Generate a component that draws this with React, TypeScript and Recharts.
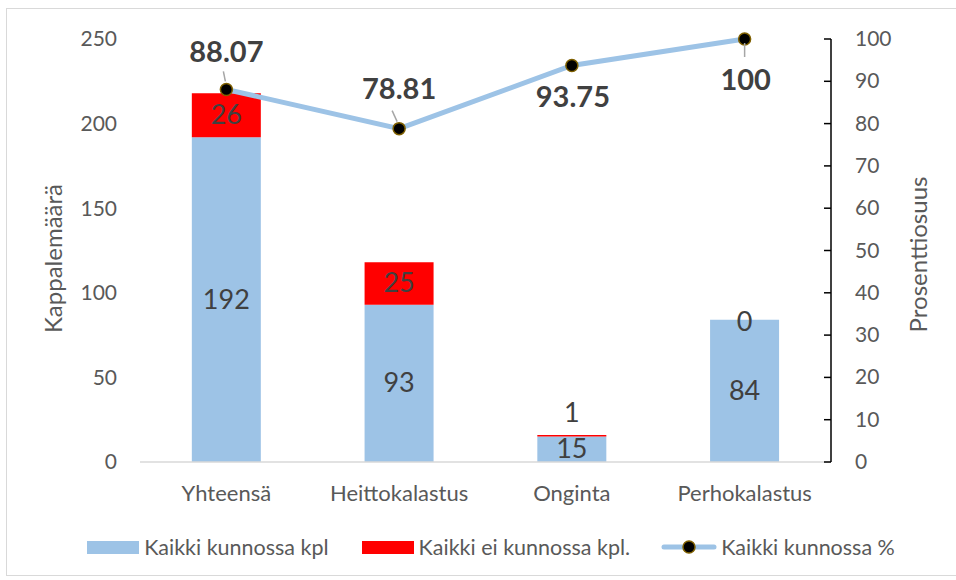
import { ComposedChart, Bar, Line, XAxis, YAxis, Legend, LabelList } from 'recharts'

const categories = ['Yhteensä', 'Heittokalastus', 'Onginta', 'Perhokalastus']
const kunnossaKpl = [192, 93, 15, 84]
const eiKunnossaKpl = [26, 25, 1, 0]
const kunnossaPct = [88.07, 78.81, 93.75, 100]
const countTicks = [0, 50, 100, 150, 200, 250]
const pctTicks = [0, 10, 20, 30, 40, 50, 60, 70, 80, 90, 100]

const data = categories.map((name, i) => ({
  name,
  ok: kunnossaKpl[i],
  notOk: eiKunnossaKpl[i],
  pct: kunnossaPct[i],
}))

// where excel put the % labels relative to each point (plus the little leader lines)
const pctLabelPlace = [
  { dx: 0, dy: -37, lead: [-3, -18, -1, -8] },
  { dx: 0, dy: -40, lead: [-7, -18, -2, -7] },
  { dx: 1, dy: 32, lead: null },
  { dx: 1, dy: 41, lead: [0, 4, 0, 18] },
]

const BLUE = '#9DC3E6'
const RED = '#FF0000'
const FONT = 'Lato, "Open Sans", sans-serif'
const TXT = '#595959'

const CenterLabel = (p: any) => {
  const { x, y, width, height, value } = p
  if (value === 0) return null
  const cx = x + width / 2
  // tiny non-zero segment: excel moves the label above it
  const cy = height < 6 ? y - 22 : y + height / 2
  return (
    <text x={cx} y={cy} dy={9} textAnchor="middle" fill="#404040" fontSize={27} fontFamily={FONT}>
      {value}
    </text>
  )
}

// zero-height red segment isn't drawn, so its "0" label hangs off the blue bar top
const ZeroOnTop = (p: any) => {
  const { x, y, width, value } = p
  if (value !== 0) return null
  return (
    <text x={x + width / 2} y={y + 2} dy={9} textAnchor="middle" fill="#404040" fontSize={27} fontFamily={FONT}>
      {value}
    </text>
  )
}

const PctLabel = (p: any) => {
  const { x, y, value, index } = p
  const pl = pctLabelPlace[index] || { dx: 0, dy: -30, lead: null }
  return (
    <g>
      {pl.lead && (
        <line x1={x + pl.lead[0]} y1={y + pl.lead[1]} x2={x + pl.lead[2]} y2={y + pl.lead[3]} stroke="#a6a6a6" strokeWidth={1.5} />
      )}
      <text x={x + pl.dx} y={y + pl.dy} dy={10} textAnchor="middle" fill="#404040" fontSize={29} fontWeight="bold" fontFamily={FONT}>
        {value}
      </text>
    </g>
  )
}

const RightTick = (p: any) => (
  <g>
    <line x1={p.x - 7} x2={p.x} y1={p.y} y2={p.y} stroke="#000" strokeWidth={1.5} />
    <text x={p.x + 24} y={p.y} dy={7} fill={TXT} fontSize={21} fontFamily={FONT}>
      {p.payload.value}
    </text>
  </g>
)

const Dot = (p: any) => (
  <circle key={p.index} cx={p.cx} cy={p.cy} r={6} fill="#000" stroke="#7F6000" strokeWidth={1.5} />
)

const LegendContent = () => (
  <div style={{ display: 'flex', justifyContent: 'center', alignItems: 'center', paddingTop: 14, paddingLeft: 26, fontFamily: FONT, fontSize: 21.5, color: TXT }}>
    <span style={{ display: 'inline-block', width: 52, height: 13, background: BLUE, marginRight: 5 }} />
    <span style={{ marginRight: 33 }}>Kaikki kunnossa kpl</span>
    <span style={{ display: 'inline-block', width: 52, height: 13, background: RED, marginRight: 5 }} />
    <span style={{ marginRight: 31 }}>Kaikki ei kunnossa kpl.</span>
    <svg width={56} height={16} style={{ marginRight: 4 }}>
      <line x1={3} x2={53} y1={8} y2={8} stroke={BLUE} strokeWidth={5} strokeLinecap="round" />
      <circle cx={28} cy={8} r={6} fill="#000" stroke="#7F6000" strokeWidth={1.5} />
    </svg>
    <span>Kaikki kunnossa %</span>
  </div>
)

export default function App() {
  return (
    <div style={{ position: 'absolute', left: 0, top: 0, width: 956, height: 580, background: '#fff' }}>
      <div style={{ position: 'absolute', left: 6, top: 8, width: 960, height: 566, border: '1px solid #d9d9d9' }} />
      <ComposedChart
        width={956}
        height={580}
        data={data}
        margin={{ top: 39, right: 0, left: 0, bottom: 12 }}
        barCategoryGap="30%"
        style={{ position: 'absolute', left: 0, top: 0 }}
      >
        <XAxis
          dataKey="name"
          height={58}
          tickLine={false}
          tickSize={0}
          tickMargin={23}
          axisLine={{ stroke: '#d9d9d9', strokeWidth: 1.5 }}
          tick={{ fill: TXT, fontSize: 22, fontFamily: FONT }}
        />
        <YAxis
          yAxisId="count"
          width={140}
          domain={[0, 250]}
          ticks={countTicks}
          axisLine={false}
          tickLine={false}
          tickSize={0}
          tickMargin={23}
          tick={{ fill: TXT, fontSize: 21, fontFamily: FONT }}
          label={(p: any) => {
            const vb = p.viewBox
            const cx = vb.x + 55
            const cy = vb.y + vb.height / 2 + 8
            return (
              <text x={cx} y={cy} transform={`rotate(-90 ${cx} ${cy})`} textAnchor="middle" dy={7} fill={TXT} fontSize={24} fontFamily={FONT}>
                Kappalemäärä
              </text>
            )
          }}
        />
        <YAxis
          yAxisId="pct"
          orientation="right"
          width={125}
          domain={[0, 100]}
          ticks={pctTicks}
          axisLine={{ stroke: '#000', strokeWidth: 1.5 }}
          tickLine={false}
          tickSize={0}
          tickMargin={0}
          tick={RightTick}
          label={(p: any) => {
            const vb = p.viewBox
            const cx = vb.x + 89
            const cy = vb.y + vb.height / 2 + 4
            return (
              <text x={cx} y={cy} transform={`rotate(-90 ${cx} ${cy})`} textAnchor="middle" dy={7} fill={TXT} fontSize={24} fontFamily={FONT}>
                Prosenttiosuus
              </text>
            )
          }}
        />
        <Legend verticalAlign="bottom" height={48} content={LegendContent} />
        <Bar yAxisId="count" dataKey="ok" stackId="a" fill={BLUE} isAnimationActive={false}>
          <LabelList dataKey="ok" content={CenterLabel} />
          <LabelList dataKey="notOk" content={ZeroOnTop} />
        </Bar>
        <Bar yAxisId="count" dataKey="notOk" stackId="a" fill={RED} isAnimationActive={false}>
          <LabelList dataKey="notOk" content={CenterLabel} />
        </Bar>
        <Line
          yAxisId="pct"
          dataKey="pct"
          stroke={BLUE}
          strokeWidth={5}
          dot={Dot}
          activeDot={false}
          isAnimationActive={false}
        >
          <LabelList dataKey="pct" content={PctLabel} />
        </Line>
      </ComposedChart>
    </div>
  )
}
